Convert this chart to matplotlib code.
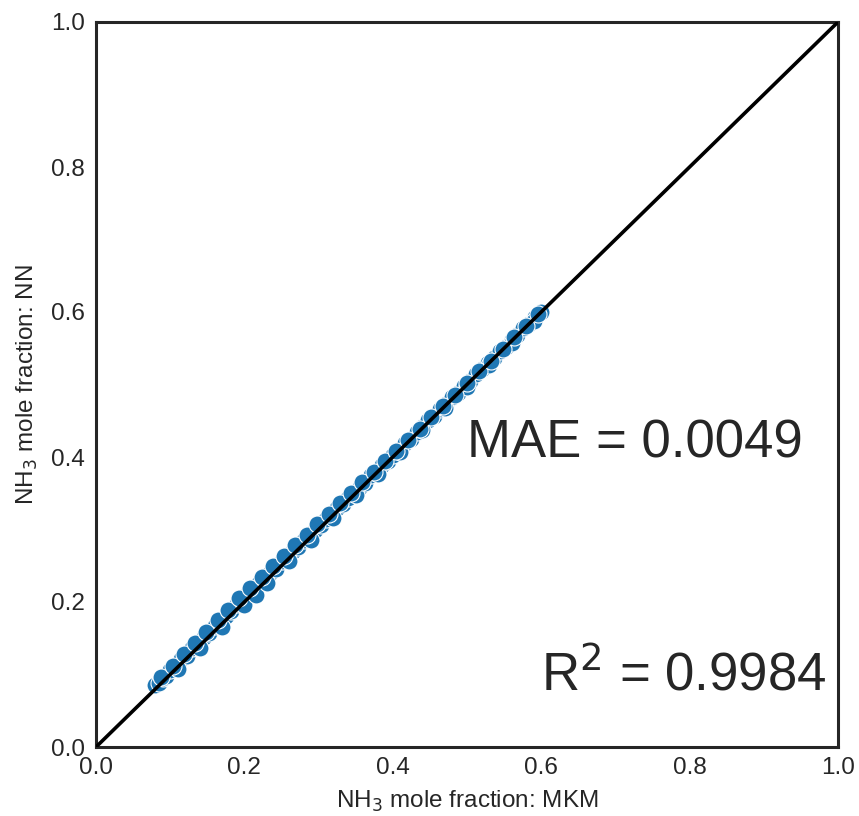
import matplotlib
matplotlib.use("Agg")
import matplotlib.pyplot as plt
import seaborn as sns

sns.set_style("white")
plt.rcParams['font.family'] = ['Liberation Sans', 'DejaVu Sans']

mkm = [0.080, 0.085, 0.090, 0.095, 0.100, 0.108, 0.115, 0.122, 0.130, 0.138,
       0.145, 0.152, 0.160, 0.168, 0.175, 0.182, 0.190, 0.197, 0.205, 0.212,
       0.220, 0.228, 0.235, 0.242, 0.250, 0.258, 0.265, 0.272, 0.280, 0.288,
       0.295, 0.303, 0.310, 0.318, 0.325, 0.333, 0.340, 0.348, 0.356, 0.363,
       0.370, 0.378, 0.386, 0.393, 0.400, 0.408, 0.416, 0.424, 0.432, 0.440,
       0.448, 0.456, 0.464, 0.472, 0.480, 0.488, 0.496, 0.504, 0.512, 0.520,
       0.528, 0.536, 0.544, 0.552, 0.560, 0.568, 0.576, 0.584, 0.592, 0.600,
       0.110, 0.140, 0.170, 0.200, 0.215, 0.230, 0.260, 0.290, 0.320, 0.350,
       0.380, 0.410, 0.440, 0.470, 0.500, 0.530, 0.560, 0.590,
       0.088, 0.104, 0.118, 0.134, 0.148, 0.164, 0.178, 0.193, 0.208, 0.224,
       0.238, 0.254, 0.268, 0.284, 0.298, 0.314, 0.329, 0.344, 0.359, 0.374,
       0.390, 0.404, 0.420, 0.436, 0.452, 0.468, 0.484, 0.500, 0.516, 0.532,
       0.548, 0.564, 0.580, 0.596]
nn = [0.085, 0.088, 0.095, 0.098, 0.106, 0.112, 0.121, 0.126, 0.136, 0.141,
      0.152, 0.157, 0.167, 0.172, 0.181, 0.187, 0.197, 0.200, 0.212, 0.216,
      0.226, 0.232, 0.240, 0.246, 0.256, 0.262, 0.270, 0.276, 0.285, 0.291,
      0.300, 0.306, 0.314, 0.321, 0.329, 0.335, 0.343, 0.350, 0.359, 0.364,
      0.375, 0.379, 0.389, 0.395, 0.403, 0.409, 0.419, 0.425, 0.435, 0.441,
      0.451, 0.457, 0.466, 0.473, 0.483, 0.488, 0.498, 0.505, 0.514, 0.521,
      0.530, 0.536, 0.546, 0.552, 0.562, 0.568, 0.578, 0.584, 0.593, 0.600,
      0.108, 0.137, 0.166, 0.196, 0.210, 0.226, 0.256, 0.286, 0.316, 0.347,
      0.377, 0.407, 0.437, 0.467, 0.497, 0.527, 0.557, 0.587,
      0.096, 0.112, 0.128, 0.144, 0.158, 0.175, 0.189, 0.205, 0.219, 0.235,
      0.249, 0.264, 0.278, 0.293, 0.307, 0.322, 0.336, 0.351, 0.365, 0.379,
      0.394, 0.408, 0.424, 0.439, 0.455, 0.470, 0.486, 0.502, 0.518, 0.533,
      0.549, 0.565, 0.581, 0.597]

mae_text = "MAE = 0.0049"
r2_text = "R$^2$ = 0.9984"

fig = plt.figure(figsize=(8.59, 8.16), dpi=100)
ax = fig.add_axes([96/859, 1-747/816, (838-96)/859, (747-22)/816])

ax.scatter(mkm, nn, s=150, color='#1f77b4', edgecolor='white', linewidth=0.8, zorder=2)
ax.plot([0, 1], [0, 1], color='black', linewidth=2.6, zorder=3)

ax.set_xlim(0, 1)
ax.set_ylim(0, 1)
ticks = [0.0, 0.2, 0.4, 0.6, 0.8, 1.0]
ax.set_xticks(ticks)
ax.set_yticks(ticks)
ax.set_xticklabels([f"{t:.1f}" for t in ticks])
ax.set_yticklabels([f"{t:.1f}" for t in ticks])
ax.tick_params(labelsize=17.5, colors='#262626', length=0)
ax.tick_params(axis='y', pad=8)
ax.tick_params(axis='x', pad=7)

ax.set_xlabel("NH$_3$ mole fraction: MKM", fontsize=17.5, color='#262626', labelpad=7)
ax.set_ylabel("NH$_3$ mole fraction: NN", fontsize=17.5, color='#262626', labelpad=8)

for sp in ax.spines.values():
    sp.set_color('#262626')
    sp.set_linewidth(2.2)

ax.text(0.5, 0.4, mae_text, fontsize=38, color='#262626')
ax.text(0.6, 0.078, r2_text, fontsize=38, color='#262626')

fig.savefig("out.png", dpi=100)
